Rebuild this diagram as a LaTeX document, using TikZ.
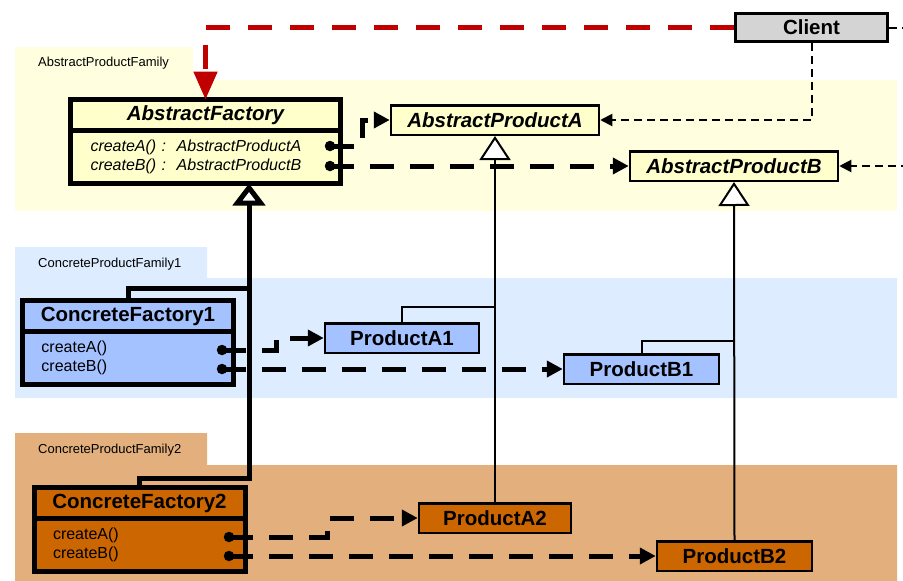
\documentclass[tikz,border=0pt]{standalone}
\usepackage{fontspec}
\setmainfont{Liberation Sans}
\usetikzlibrary{arrows.meta,positioning}
\definecolor{PkgYellow}{RGB}{255,255,224}
\definecolor{PkgBlue}{RGB}{221,236,255}
\definecolor{PkgOrange}{RGB}{227,176,125}
\definecolor{ClassYellow}{RGB}{255,255,204}
\definecolor{ClassBlue}{RGB}{164,194,255}
\definecolor{ClassOrange}{RGB}{204,102,0}
\definecolor{ClientGrey}{RGB}{212,212,212}
\definecolor{UseRed}{RGB}{192,0,0}

\begin{document}
\begin{tikzpicture}[x=1pt,y=-1pt,
  pkglabel/.style={font=\fontsize{13}{15}\selectfont, anchor=west, inner sep=0pt},
  fachead/.style={draw, line width=5pt, fill=#1, outer sep=0pt, inner sep=0pt, minimum height=31pt, font=\bfseries\fontsize{20.5}{24}\selectfont},
  facbody/.style={draw, line width=5pt, fill=#1, outer sep=0pt, inner ysep=0pt, minimum height=53pt, align=left, anchor=north, font=\fontsize{16}{19}\selectfont},
  prodbox/.style={draw, line width=2.5pt, fill=#1, inner sep=0pt, minimum height=29.5pt, font=\bfseries\fontsize{20.5}{24}\selectfont},
  port/.style={circle, fill=black, inner sep=0pt, minimum size=10.5pt},
  create/.style={line width=5pt, dash pattern=on 24pt off 16pt, -{Triangle[length=16pt,width=16pt]}},
  uses/.style={line width=2pt, dash pattern=on 8pt off 5pt, -{Triangle[length=12pt,width=12pt]}},
  owner/.style={UseRed, line width=5pt, dash pattern=on 24pt off 18pt, -{Triangle[length=28pt,width=23pt]}},
  inherit/.style={line width=2pt, -{Triangle[length=24pt,width=31pt,fill=white]}},
  inheritbig/.style={line width=5pt, -{Triangle[length=22pt,width=32pt,fill=white]}},
]
\useasboundingbox (0,0) rectangle (903,581);

% packages
\fill[PkgYellow] (15,47) -| (193,80) -| (897,211) -| cycle;
\fill[PkgBlue] (15,247) -| (207,278) -| (897,398) -| cycle;
\fill[PkgOrange] (15,433) -| (207,465) -| (897,581) -| cycle;
\node[pkglabel] (famAbs) at (38,63) {AbstractProductFamily};
\node[pkglabel] (famOne) at (38,264) {ConcreteProductFamily1};
\node[pkglabel] (famTwo) at (38,450) {ConcreteProductFamily2};

% factories
\node[fachead=ClassYellow, minimum width=270pt, font=\bfseries\itshape\fontsize{20.5}{24}\selectfont] (afh) at (205.5,115) {AbstractFactory};
\node[facbody=ClassYellow, text width=230pt, inner xsep=20pt, font=\itshape\fontsize{16}{19}\selectfont] (afb) at (afh.south) {createA() :\ \ AbstractProductA\\createB() :\ \ AbstractProductB};
\node[fachead=ClassBlue, minimum width=211pt] (cf1h) at (128,316) {ConcreteFactory1};
\node[facbody=ClassBlue, text width=173pt, inner xsep=19pt] (cf1b) at (cf1h.south) {createA()\\createB()};
\node[fachead=ClassOrange, minimum width=211pt] (cf2h) at (139.5,503) {ConcreteFactory2};
\node[facbody=ClassOrange, text width=173pt, inner xsep=19pt] (cf2b) at (cf2h.south) {createA()\\createB()};

% products
\node[prodbox=ClassYellow, minimum width=208pt, font=\bfseries\itshape\fontsize{20.5}{24}\selectfont] (apa) at (495,120) {AbstractProductA};
\node[prodbox=ClassYellow, minimum width=208pt, font=\bfseries\itshape\fontsize{20.5}{24}\selectfont] (apb) at (734,166) {AbstractProductB};
\node[prodbox=ClassBlue, minimum width=154pt] (pa1) at (402,338) {ProductA1};
\node[prodbox=ClassBlue, minimum width=155pt] (pb1) at (641.5,369) {ProductB1};
\node[prodbox=ClassOrange, minimum width=152pt] (pa2) at (495,518) {ProductA2};
\node[prodbox=ClassOrange, minimum width=155pt] (pb2) at (734.5,556) {ProductB2};
\node[draw, line width=3pt, fill=ClientGrey, inner sep=0pt, minimum width=152pt, minimum height=28pt, font=\bfseries\fontsize{20.5}{24}\selectfont] (client) at (811.5,27.5) {Client};

% method ports
\node[port] (afA) at (330,146) {};
\node[port] (afB) at (330,166) {};
\node[port] (cf1A) at (222,350) {};
\node[port] (cf1B) at (222,369) {};
\node[port] (cf2A) at (229,537) {};
\node[port] (cf2B) at (229,556) {};

% generalisation
\coordinate (fj) at (249,478);
\draw[inheritbig] (cf2h.north) |- (fj) -- (fj |- afb.south);
\draw[line width=5pt] (cf1h.north) -- ++(0,-12) coordinate (fj1) -- (fj1 -| fj);
\draw[inherit] (pa2.north) -- (apa.south);
\draw[line width=2pt] (pa1.north) -- ++(0,-15) coordinate (ja1) -- (ja1 -| apa.south);
\draw[inherit] (pb2.north) -- (apb.south);
\draw[line width=2pt] (pb1.north) -- ++(0,-12) coordinate (jb1) -- (jb1 -| apb.south);

% creation and use
\draw[create] (afA.center) -- ++(32,0) |- (apa.west);
\draw[create] (afB.center) -- (apb.west);
\draw[create] (cf1A.center) -- ++(54,0) |- (pa1.west);
\draw[create] (cf1B.center) -- (pb1.west);
\draw[create] (cf2A.center) -- ++(98,0) |- (pa2.west);
\draw[create] (cf2B.center) -- (pb2.west);
\draw[owner] (client.west) -| (afh.north);
\draw[uses] (client.south) |- (apa.east);
\draw[uses] (client.east) -- ++(25,0) |- (apb.east);
\end{tikzpicture}
\end{document}
